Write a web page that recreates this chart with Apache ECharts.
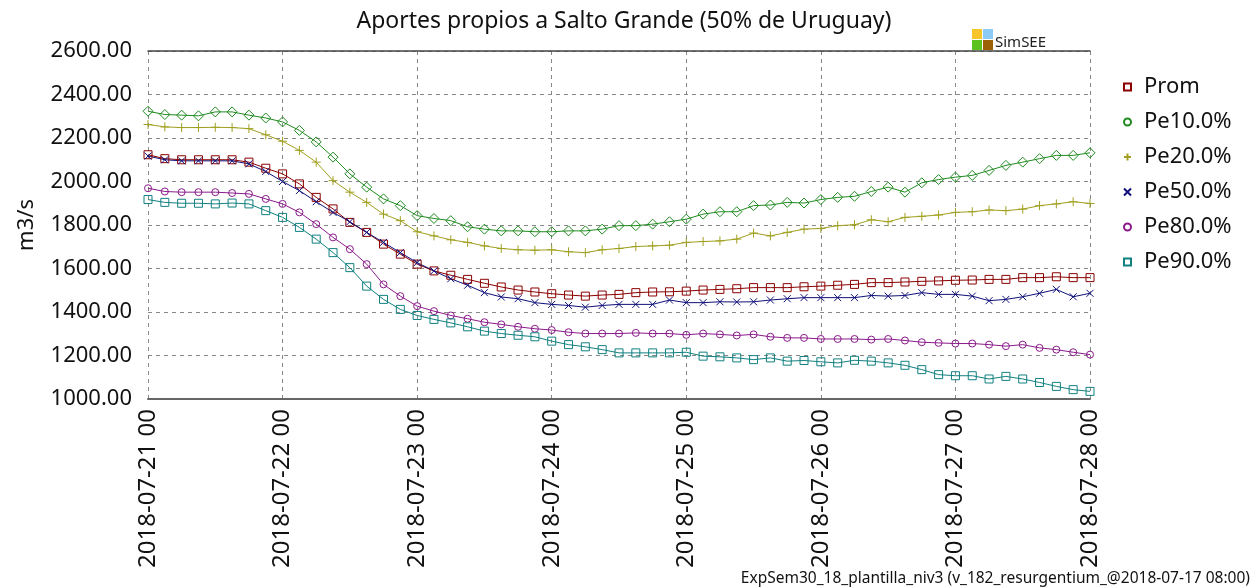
<!DOCTYPE html>
<html>
<head>
<meta charset="utf-8">
<script src="https://cdn.jsdelivr.net/npm/echarts@6/dist/echarts.min.js"></script>
<style>
  html, body { margin: 0; padding: 0; background: #fff; }
  #chart { width: 1253px; height: 587px; }
</style>
</head>
<body>
<div id="chart"></div>
<script>
// horas desde 2018-07-21 00, paso de 3 h
const hours = [];
for (let h = 0; h <= 168; h += 3) hours.push(h);

const xLabels = ['2018-07-21 00', '2018-07-22 00', '2018-07-23 00', '2018-07-24 00',
  '2018-07-25 00', '2018-07-26 00', '2018-07-27 00', '2018-07-28 00'];

const prom = [2123, 2105, 2100, 2100, 2100, 2100, 2089, 2061, 2035, 1989, 1927, 1874, 1812, 1766, 1712, 1666, 1620,
  1589, 1569, 1550, 1532, 1515, 1501, 1492, 1484, 1478, 1473, 1478, 1481, 1489, 1492, 1493, 1496,
  1501, 1504, 1507, 1512, 1512, 1512, 1516, 1519, 1523, 1527, 1535, 1535, 1538, 1541, 1543, 1546,
  1547, 1550, 1550, 1558, 1558, 1562, 1558, 1558];
const pe10 = [2323, 2308, 2305, 2302, 2320, 2320, 2305, 2292, 2274, 2235, 2182, 2112, 2035, 1974, 1920, 1889, 1843,
  1830, 1820, 1792, 1781, 1773, 1773, 1769, 1769, 1773, 1773, 1781, 1797, 1797, 1804, 1815, 1827,
  1850, 1861, 1861, 1889, 1892, 1904, 1901, 1917, 1927, 1932, 1954, 1974, 1951, 1994, 2009, 2020,
  2028, 2051, 2074, 2089, 2105, 2120, 2120, 2132];
const pe20 = [2262, 2251, 2248, 2248, 2249, 2248, 2243, 2215, 2185, 2143, 2089, 2004, 1951, 1904, 1850, 1820, 1769,
  1750, 1732, 1720, 1704, 1692, 1686, 1684, 1686, 1677, 1673, 1686, 1692, 1701, 1704, 1707, 1720,
  1724, 1727, 1735, 1763, 1750, 1766, 1781, 1784, 1797, 1801, 1824, 1815, 1835, 1840, 1846, 1858,
  1861, 1869, 1866, 1873, 1889, 1897, 1907, 1899];
const pe50 = [2117, 2100, 2095, 2095, 2095, 2095, 2081, 2046, 2000, 1958, 1907, 1858, 1815, 1766, 1720, 1673, 1627,
  1589, 1553, 1523, 1489, 1469, 1461, 1443, 1435, 1430, 1422, 1430, 1435, 1435, 1435, 1455, 1443,
  1443, 1447, 1446, 1447, 1455, 1461, 1466, 1466, 1466, 1466, 1476, 1473, 1476, 1489, 1481, 1481,
  1473, 1452, 1458, 1470, 1486, 1504, 1470, 1486];
const pe80 = [1969, 1954, 1951, 1951, 1951, 1947, 1943, 1920, 1897, 1858, 1804, 1743, 1689, 1620, 1527, 1473, 1427,
  1404, 1384, 1369, 1353, 1343, 1332, 1323, 1317, 1307, 1301, 1301, 1301, 1304, 1301, 1301, 1295,
  1301, 1297, 1292, 1297, 1286, 1281, 1281, 1276, 1276, 1276, 1273, 1276, 1269, 1261, 1258, 1255,
  1255, 1250, 1243, 1250, 1235, 1227, 1215, 1204];
const pe90 = [1917, 1904, 1900, 1900, 1897, 1901, 1897, 1866, 1835, 1789, 1735, 1673, 1604, 1519, 1458, 1412, 1384,
  1366, 1350, 1332, 1312, 1301, 1293, 1286, 1266, 1250, 1240, 1227, 1212, 1212, 1212, 1212, 1215,
  1197, 1194, 1189, 1181, 1189, 1174, 1177, 1171, 1166, 1178, 1174, 1166, 1155, 1135, 1112, 1107,
  1107, 1092, 1104, 1092, 1076, 1058, 1043, 1035];

const FONT = 'Noto Sans';
const PLUS = 'path://M0,5L10,5M5,0L5,10';
const CROSS = 'path://M0,0L10,10M10,0L0,10';

function mkSeries(name, vals, color, symbol, size, fill) {
  return {
    name: name,
    type: 'line',
    data: hours.map((h, i) => [h, vals[i]]),
    symbol: symbol,
    symbolSize: size,
    showAllSymbol: true,
    lineStyle: { color: color, width: 1 },
    itemStyle: { color: fill || 'rgba(255,255,255,0)', borderColor: color, borderWidth: 1 },
    emphasis: { disabled: true },
    animation: false
  };
}

const chart = echarts.init(document.getElementById('chart'));
chart.setOption({
  backgroundColor: '#fff',
  textStyle: { fontFamily: FONT },
  title: {
    text: 'Aportes propios a Salto Grande (50% de Uruguay)',
    left: 619, top: 5, textAlign: 'center',
    textStyle: { fontFamily: FONT, fontSize: 23, fontWeight: 'normal', color: '#111' }
  },
  grid: { left: 148, right: 163, top: 51, bottom: 188 },
  legend: {
    orient: 'vertical',
    left: 1118, top: 71,
    itemWidth: 7, itemHeight: 7, itemGap: 13,
    textStyle: { fontFamily: FONT, fontSize: 22, color: '#111', padding: [0, 0, 0, 8] },
    data: [
      { name: 'Prom', icon: 'rect' },
      { name: 'Pe10.0%', icon: 'circle' },
      { name: 'Pe20.0%', icon: PLUS },
      { name: 'Pe50.0%', icon: CROSS },
      { name: 'Pe80.0%', icon: 'circle' },
      { name: 'Pe90.0%', icon: 'rect' }
    ]
  },
  xAxis: [{
    type: 'value', min: 0, max: 168, interval: 24,
    axisLine: { show: true, lineStyle: { color: '#666', width: 2 } },
    axisTick: { show: false },
    splitLine: { show: true, lineStyle: { color: '#888', type: [4, 4], width: 1 } },
    axisLabel: {
      rotate: 90, margin: 10, fontSize: 24, color: '#111', fontFamily: FONT,
      formatter: v => xLabels[v / 24]
    }
  }, {
    type: 'value', min: 0, max: 168, position: 'top',
    axisLine: { show: true, lineStyle: { color: '#444', width: 1.5 } },
    axisTick: { show: false }, axisLabel: { show: false }, splitLine: { show: false }
  }],
  yAxis: {
    type: 'value', min: 1000, max: 2600, interval: 200,
    name: 'm3/s', nameLocation: 'middle', nameGap: 110,
    nameTextStyle: { fontSize: 22, color: '#111', fontFamily: FONT },
    axisLine: { show: false }, axisTick: { show: false },
    splitLine: { show: true, lineStyle: { color: '#888', type: [4, 4], width: 1 } },
    axisLabel: { fontSize: 22, color: '#111', margin: 16, fontFamily: FONT, formatter: v => v.toFixed(2) }
  },
  series: [
    mkSeries('Prom', prom, '#8b0000', 'rect', 8),
    mkSeries('Pe10.0%', pe10, '#1f8a1f', 'diamond', 10),
    mkSeries('Pe20.0%', pe20, '#a0a020', PLUS, 9),
    mkSeries('Pe50.0%', pe50, '#10107a', CROSS, 7),
    mkSeries('Pe80.0%', pe80, '#8a1a8a', 'circle', 7),
    mkSeries('Pe90.0%', pe90, '#118080', 'rect', 8)
  ],
  graphic: [
    { type: 'rect', left: 972, top: 29, shape: { width: 10, height: 10 }, style: { fill: '#f7c52a' } },
    { type: 'rect', left: 983, top: 29, shape: { width: 10, height: 10 }, style: { fill: '#8ccbf5' } },
    { type: 'rect', left: 972, top: 40, shape: { width: 10, height: 10 }, style: { fill: '#5cc21e' } },
    { type: 'rect', left: 983, top: 40, shape: { width: 10, height: 10 }, style: { fill: '#9c6106' } },
    { type: 'text', left: 995, top: 35, style: { text: 'SimSEE', font: '15px "Noto Sans"', fill: '#222' } },
    {
      type: 'text', right: 3, bottom: 0,
      style: { text: 'ExpSem30_18_plantilla_niv3 (v_182_resurgentium_@2018-07-17 08:00)', font: '15.5px "Noto Sans"', fill: '#111' }
    }
  ]
});
</script>
</body>
</html>
